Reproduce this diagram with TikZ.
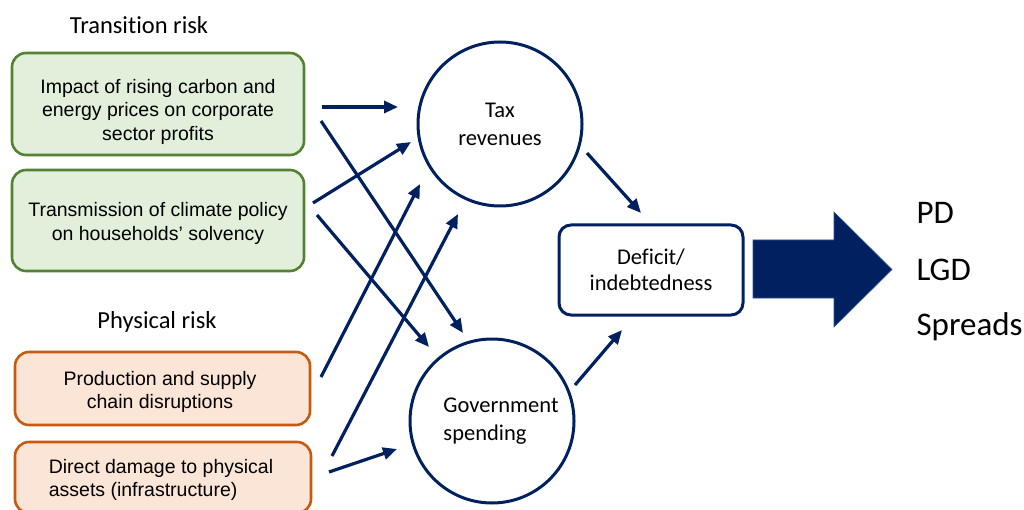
\documentclass[tikz,border=0pt]{standalone}
\usepackage{fontspec}
\setmainfont{Liberation Sans}
\newfontfamily\calfont[Ligatures=NoCommon]{Carlito}
\usetikzlibrary{arrows.meta}
\definecolor{navy}{HTML}{002060}
\definecolor{grn}{HTML}{548235}
\definecolor{grnfill}{HTML}{E2EFDA}
\definecolor{org}{HTML}{C55A11}
\definecolor{orgfill}{HTML}{FBE5D6}
\definecolor{edgeblue}{HTML}{2F5597}
\begin{document}
\begin{tikzpicture}[x=1pt,y=-1pt,
  riskbox/.style={line width=2.6pt, rounded corners=14pt, inner sep=0pt},
  greenbox/.style={riskbox, draw=grn, fill=grnfill},
  orangebox/.style={riskbox, draw=org, fill=orgfill},
  boxlabel/.style={align=center, inner sep=0pt, font=\fontsize{19.5}{23.5}\selectfont},
  bubble/.style={circle, draw=navy, line width=3pt, minimum size=164pt, inner sep=0pt,
    font=\calfont\fontsize{22.5}{28}\selectfont},
  heading/.style={font=\calfont\fontsize{24.5}{28}\selectfont},
  outcome/.style={anchor=base west, font=\calfont\fontsize{33}{40}\selectfont},
  link/.style={draw=navy, line width=3.2pt, -{Triangle[length=14pt,width=12pt]}}
]
\useasboundingbox (0,0) rectangle (1024,510);
\clip (0,0) rectangle (1024,510);
\fill[white] (0,0) rectangle (1024,510);

% headings
\node[heading] (trh) at (139,25) {Transition risk};
\node[heading] (phh) at (157,322) {Physical risk};

% risk boxes
\node[greenbox, minimum width=292pt, minimum height=102pt] (g1) at (158,104) {};
\node[boxlabel] (g1t) at (158,111.5)
  {Impact of rising carbon and\\energy prices on corporate\\sector profits};
\node[greenbox, minimum width=292pt, minimum height=101pt] (g2) at (158,220.5) {};
\node[boxlabel] (g2t) at (158,223.5)
  {Transmission of climate policy\\on households' solvency};
\node[orangebox, minimum width=295pt, minimum height=73pt] (o1) at (162.5,388.5) {};
\node[boxlabel] (o1t) at (160,392)
  {Production and supply\\chain disruptions};
\node[orangebox, minimum width=296pt, minimum height=71pt] (o2) at (163,477.5) {};
\node[boxlabel, align=left] (o2t) at (161,480)
  {Direct damage to physical\\assets (infrastructure)};

% circles
\node[bubble, align=center] (tax) at (500,124) {Tax\\revenues};
\node[bubble, align=left] (gov) at (492,421) {\hspace*{18pt}Government\\\hspace*{18pt}spending};

% deficit box
\node[draw=navy, line width=3pt, rounded corners=12pt, minimum width=184pt, minimum height=90pt,
  align=center, inner sep=0pt, font=\calfont\fontsize{22.5}{26}\selectfont] (def) at (651,270)
  {Deficit/\\indebtedness};

% arrow end points
\coordinate (a1s) at (322,107); \coordinate (a1e) at (398,107);
\coordinate (a2s) at (321,121); \coordinate (a2e) at (463,333);
\coordinate (a3s) at (313,203); \coordinate (a3e) at (411,142);
\coordinate (a4s) at (317,215); \coordinate (a4e) at (429,347);
\coordinate (a5s) at (321,377); \coordinate (a5e) at (420,184);
\coordinate (a6s) at (332,456); \coordinate (a6e) at (458,214);
\coordinate (a7s) at (329,472); \coordinate (a7e) at (397,449);
\coordinate (a8s) at (587,153); \coordinate (a8e) at (641,213);
\coordinate (a9s) at (575,385); \coordinate (a9e) at (622,330);

\draw[link] (a1s) -- (a1e);
\draw[link] (a2s) -- (a2e);
\draw[link] (a3s) -- (a3e);
\draw[link] (a4s) -- (a4e);
\draw[link] (a5s) -- (a5e);
\draw[link] (a6s) -- (a6e);
\draw[link] (a7s) -- (a7e);
\draw[link] (a8s) -- (a8e);
\draw[link] (a9s) -- (a9e);

% big block arrow
\filldraw[fill=navy, draw=edgeblue, line width=0.6pt]
  (753,240) -- (834,240) -- (834,212) -- (892,269.5) -- (834,327) -- (834,298) -- (753,298) -- cycle;

% outcomes
\node[outcome] (pd) at (913,224) {PD};
\node[outcome] (lgd) at (913,280) {LGD};
\node[outcome] (spr) at (913,335) {Spreads};
\end{tikzpicture}
\end{document}
